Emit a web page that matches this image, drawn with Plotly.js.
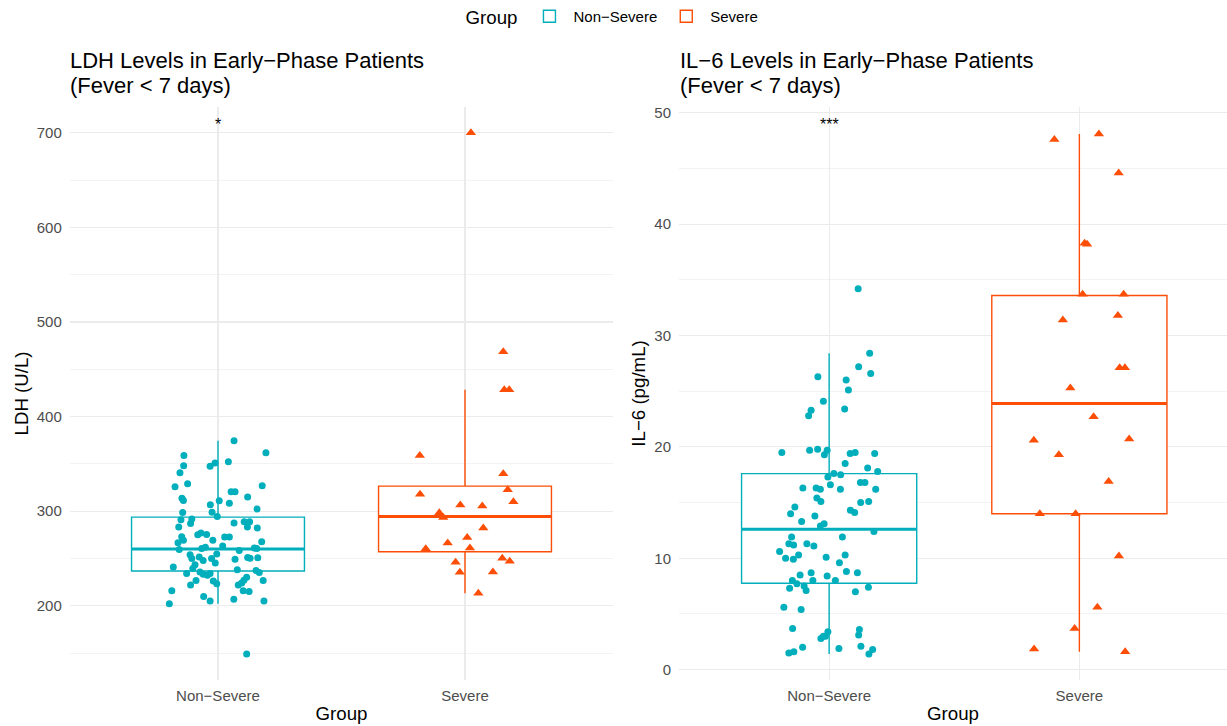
<!DOCTYPE html>
<html>
<head>
<meta charset="utf-8">
<script src="https://cdn.plot.ly/plotly-3.0.1.min.js"></script>
<style>
  html, body { margin: 0; padding: 0; background: #ffffff; }
  #chart { width: 1227px; height: 726px; }
</style>
</head>
<body>
<div id="chart"></div>
<script>
// Groups on the x axis (position 1 and 2)
const groups = ['Non\u2212Severe', 'Severe'];
const groupColors = ['#00AFBB', '#FC4E07'];

// LDH (U/L), early-phase patients
const ldhNonSevere = [374.4,361.8,359,348,347.6,350.9,352.3,340.6,329,325.9,327,320.6,320.6,313.8,311.4,315,311,306.9,308.3,302.3,298.7,299,294.5,291.7,291,287.1,287.5,288.9,288.9,283.3,283.3,282.3,275.2,276.9,275.5,273,272.7,272.7,269.2,269.2,266.7,267.8,260.6,261.8,263.2,259.6,261.1,260.6,258.6,254,254.8,249.9,251.6,247.8,249.9,245.3,249.1,251.2,250.2,250.9,241.1,243.5,239.4,238,237.3,235.2,234.1,235.8,233.3,232.2,234.1,230.1,226.9,224,226.2,223.4,226.7,226.7,222.1,222.1,215.8,215.1,215.8,209.8,205.2,207,205.2,202.1,149.1];
const ldhNonSevereJitter = [0.065,0.194,-0.138,-0.139,-0.032,-0.012,0.042,-0.154,-0.123,-0.174,0.179,0.053,0.069,-0.146,-0.140,0.120,0.005,-0.031,0.046,0.158,-0.143,-0.024,-0.003,-0.106,-0.150,-0.111,0.065,0.106,0.128,0.119,-0.159,0.159,-0.082,-0.069,-0.046,-0.147,0.027,0.046,-0.140,-0.021,-0.162,0.177,-0.066,-0.051,0.019,-0.157,0.147,0.157,0.086,-0.113,-0.005,-0.106,-0.076,-0.060,-0.026,-0.011,0.069,0.120,0.130,0.161,-0.181,-0.093,-0.102,0.078,0.154,0.167,-0.127,-0.073,-0.060,-0.043,-0.032,0.116,0.105,0.096,-0.019,-0.005,0.183,-0.089,-0.111,0.082,0.102,0.126,-0.187,-0.058,-0.032,0.064,0.186,-0.197,0.116];
const ldhSevere = [700,468.7,428.5,428.5,359,339.6,322.7,318,310,306.6,305.5,298.5,293.3,282.3,272.1,266.5,261.1,260.4,250.2,247,246,235.8,235.4,213.2];
const ldhSevereJitter = [0.024,0.155,0.159,0.179,-0.183,0.155,0.173,-0.182,0.196,-0.019,0.070,-0.104,-0.088,0.074,0.009,-0.070,0.020,-0.159,0.151,0.181,-0.038,0.113,-0.021,0.054];

// LDH box summaries: [Non-Severe, Severe]
const ldhQ1 = [236.8, 257.2];
const ldhMedian = [260.0, 294.5];
const ldhQ3 = [293.8, 326.5];
const ldhLowerWhisker = [202.1, 213.2];
const ldhUpperWhisker = [374.4, 428.5];

// IL-6 (pg/mL), early-phase patients
const il6NonSevere = [34.2,28.4,27.2,26.6,26.3,26.0,25.1,24.1,23.4,23.3,22.8,19.5,19.7,19.8,19.3,19.7,19.4,19.5,19.4,18.5,18.1,17.8,17.3,17.6,17.5,16.6,16.3,16.3,16.2,16.2,16.8,16.8,16.2,15.4,15.1,15.0,15.1,14.3,14.1,14.6,14.0,13.8,13.3,12.9,13.1,12.4,11.9,11.9,11.3,11.2,11.3,11.1,10.6,10.0,9.9,10.3,10.1,10.3,9.6,8.8,8.7,8.5,8.7,8.4,8.0,8.0,8.0,7.3,7.7,7.5,7.1,7.0,7.4,5.6,5.4,3.7,2.8,3.0,3.0,3.4,3.6,3.1,1.5,1.6,2.0,1.9,2.1,1.4,1.8];
const il6NonSevereJitter = [0.116,0.162,0.118,0.166,-0.045,0.068,0.077,-0.023,0.062,-0.072,-0.082,-0.189,-0.078,-0.046,-0.019,-0.008,0.084,0.104,0.182,0.064,0.154,0.194,-0.005,0.019,0.046,0.005,-0.105,-0.052,-0.035,0.045,0.125,0.143,0.186,-0.049,-0.033,0.126,0.158,0.085,0.102,-0.137,-0.154,-0.057,-0.110,-0.035,-0.020,0.179,0.053,-0.150,-0.161,-0.142,-0.089,-0.061,-0.198,-0.174,-0.143,-0.122,-0.012,0.064,0.041,0.069,0.113,-0.116,-0.072,-0.008,0.025,-0.147,-0.065,-0.158,-0.129,-0.100,-0.092,0.105,0.157,-0.181,-0.112,-0.146,-0.033,-0.023,-0.015,-0.005,0.121,0.118,-0.161,-0.141,-0.106,0.039,0.127,0.159,0.174];
const il6Severe = [47.6,48.1,44.6,38.3,38.2,33.7,33.7,31.4,31.8,27.1,27.1,25.3,22.7,20.6,20.7,19.3,16.9,14.0,14.0,10.2,5.6,3.7,1.85,1.6];
const il6SevereJitter = [-0.100,0.078,0.157,0.021,0.031,0.013,0.177,-0.066,0.154,0.161,0.182,-0.036,0.057,-0.182,0.199,-0.082,0.117,-0.158,-0.015,0.158,0.072,-0.019,-0.181,0.183];

// IL-6 box summaries: [Non-Severe, Severe]
const il6Q1 = [7.75, 14.0];
const il6Median = [12.6, 23.9];
const il6Q3 = [17.6, 33.6];
const il6LowerWhisker = [1.4, 1.6];
const il6UpperWhisker = [28.4, 48.1];

// Significance labels above each panel
const sigLabels = ['*', '***'];

const BOX_WIDTH = 0.7;
const FONT = 'Liberation Sans, Arial, Helvetica, sans-serif';
const symbols = ['circle', 'triangle-up'];
const markerSizes = [7, 9];

function panelTraces(xa, ya, q1, med, q3, lo, hi, pointSets, jitterSets, showLegend) {
  const boxes = [], medians = [], points = [];
  groups.forEach((g, i) => {
    const pos = i + 1;
    boxes.push({
      type: 'box', name: g, legendgroup: g, showlegend: showLegend,
      x: [pos], q1: [q1[i]], median: [med[i]], q3: [q3[i]],
      lowerfence: [lo[i]], upperfence: [hi[i]],
      width: BOX_WIDTH, whiskerwidth: 0, boxpoints: false,
      line: { color: groupColors[i], width: 1.4 },
      fillcolor: '#ffffff',
      xaxis: xa, yaxis: ya, hoverinfo: 'skip'
    });
    // thicker median bar, as in ggplot boxplots
    medians.push({
      type: 'scatter', mode: 'lines', showlegend: false,
      x: [pos - BOX_WIDTH / 2, pos + BOX_WIDTH / 2], y: [med[i], med[i]],
      line: { color: groupColors[i], width: 3 },
      xaxis: xa, yaxis: ya, hoverinfo: 'skip'
    });
    points.push({
      type: 'scatter', mode: 'markers', showlegend: false, name: g,
      x: jitterSets[i].map(j => pos + j), y: pointSets[i],
      marker: { color: groupColors[i], size: markerSizes[i], symbol: symbols[i], line: { width: 0 } },
      xaxis: xa, yaxis: ya
    });
  });
  return boxes.concat(medians, points);
}

const traces = [].concat(
  panelTraces('x', 'y', ldhQ1, ldhMedian, ldhQ3, ldhLowerWhisker, ldhUpperWhisker,
    [ldhNonSevere, ldhSevere], [ldhNonSevereJitter, ldhSevereJitter], true),
  panelTraces('x2', 'y2', il6Q1, il6Median, il6Q3, il6LowerWhisker, il6UpperWhisker,
    [il6NonSevere, il6Severe], [il6NonSevereJitter, il6SevereJitter], false)
);

const W = 1227, H = 726;
const gridColor = '#EBEBEB';

function xAxis(domain, range, anchor) {
  return {
    anchor: anchor,
    domain: domain, range: range, tickvals: [1, 2], ticktext: groups,
    showgrid: true, gridcolor: gridColor, gridwidth: 1.1, zeroline: false,
    showline: false, ticks: '', ticklabelstandoff: 5,
    tickfont: { family: FONT, size: 15, color: '#4D4D4D' },
    title: { text: 'Group', font: { family: FONT, size: 18.7, color: '#000000' }, standoff: 3 },
    fixedrange: true
  };
}
function yAxis(range, dtick, minorDtick, title, anchor) {
  return {
    anchor: anchor,
    domain: [(H - 680) / H, (H - 106) / H], range: range,
    tick0: 0, dtick: dtick, showgrid: true, gridcolor: gridColor, gridwidth: 1.1,
    minor: { tick0: 0, dtick: minorDtick, showgrid: true, gridcolor: gridColor, gridwidth: 0.6 },
    zeroline: false, showline: false, ticks: '', ticklabelstandoff: 7,
    tickfont: { family: FONT, size: 15, color: '#4D4D4D' },
    title: { text: title, font: { family: FONT, size: 18.7, color: '#000000' }, standoff: 3 },
    fixedrange: true
  };
}

const layout = {
  width: W, height: H,
  margin: { l: 0, r: 0, t: 0, b: 0 },
  paper_bgcolor: '#ffffff', plot_bgcolor: '#ffffff',
  font: { family: FONT, color: '#000000' },
  boxmode: 'overlay',
  xaxis: xAxis([69.8 / W, 613.2 / W], [0.4, 2.6], 'y'),
  yaxis: yAxis([121.5, 727.5], 100, 50, 'LDH (U/L)', 'x'),
  xaxis2: xAxis([679 / W, 1], [0.4, 2.59], 'y2'),
  yaxis2: yAxis([-0.94, 50.54], 10, 5, 'IL\u22126 (pg/mL)', 'x2'),
  showlegend: true,
  legend: {
    orientation: 'h', x: 0.5, xanchor: 'center', y: 1.001, yanchor: 'top',
    title: { text: 'Group', side: 'left', font: { family: FONT, size: 18.7, color: '#000000' } },
    font: { family: FONT, size: 15, color: '#000000' },
    itemwidth: 38, tracegroupgap: 0
  },
  annotations: [
    { text: 'LDH Levels in Early\u2212Phase Patients', xref: 'paper', yref: 'paper',
      x: 68 / W, y: (H - 60) / H, xanchor: 'left', yanchor: 'middle', showarrow: false,
      font: { family: FONT, size: 22, color: '#000000' } },
    { text: '(Fever &lt; 7 days)', xref: 'paper', yref: 'paper',
      x: 68 / W, y: (H - 85) / H, xanchor: 'left', yanchor: 'middle', showarrow: false,
      font: { family: FONT, size: 22, color: '#000000' } },
    { text: 'IL\u22126 Levels in Early\u2212Phase Patients', xref: 'paper', yref: 'paper',
      x: 678 / W, y: (H - 60) / H, xanchor: 'left', yanchor: 'middle', showarrow: false,
      font: { family: FONT, size: 22, color: '#000000' } },
    { text: '(Fever &lt; 7 days)', xref: 'paper', yref: 'paper',
      x: 678 / W, y: (H - 85) / H, xanchor: 'left', yanchor: 'middle', showarrow: false,
      font: { family: FONT, size: 22, color: '#000000' } },
    { text: sigLabels[0], xref: 'x', yref: 'paper', x: 1, y: (H - 124) / H,
      yanchor: 'middle', showarrow: false, font: { family: FONT, size: 16, color: '#000000' } },
    { text: sigLabels[1], xref: 'x2', yref: 'paper', x: 1, y: (H - 124) / H,
      yanchor: 'middle', showarrow: false, font: { family: FONT, size: 16, color: '#000000' } }
  ]
};

Plotly.newPlot('chart', traces, layout, { displayModeBar: false, staticPlot: true });
</script>
</body>
</html>
